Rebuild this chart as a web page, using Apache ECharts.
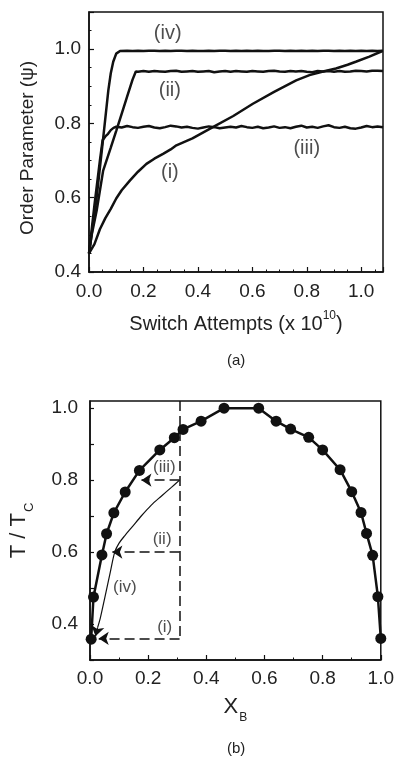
<!DOCTYPE html>
<html>
<head>
<meta charset="utf-8">
<script src="https://cdn.jsdelivr.net/npm/echarts@6/dist/echarts.min.js"></script>
<style>
  html, body { margin: 0; background: #fff; }
  #chart { width: 397px; height: 757px; }
</style>
</head>
<body>
<div id="chart"></div>
<script>
// ── (a) order parameter vs switch attempts ──
const iX = [0, 0.02, 0.04, 0.06, 0.08, 0.1, 0.12, 0.15, 0.18, 0.211, 0.24, 0.272, 0.3, 0.321, 0.38, 0.455,
  0.53, 0.602, 0.68, 0.761, 0.81, 0.86, 0.907, 0.95, 0.98, 1.03, 1.078];
const iY = [0.45, 0.475, 0.515, 0.545, 0.57, 0.598, 0.62, 0.646, 0.67, 0.691, 0.705, 0.718, 0.73, 0.741, 0.76, 0.79,
  0.82, 0.853, 0.885, 0.916, 0.93, 0.94, 0.948, 0.958, 0.966, 0.98, 0.995];

const iiX = [0, 0.01, 0.028, 0.052, 0.08, 0.1, 0.12, 0.14, 0.16, 0.172,
  0.18, 0.2, 0.22, 0.24, 0.26, 0.28, 0.3, 0.32, 0.34, 0.36, 0.38, 0.4, 0.42, 0.44, 0.46, 0.48, 0.5,
  0.52, 0.54, 0.56, 0.58, 0.6, 0.62, 0.64, 0.66, 0.68, 0.7, 0.72, 0.74, 0.76, 0.78, 0.8,
  0.82, 0.84, 0.86, 0.88, 0.9, 0.92, 0.94, 0.96, 0.98, 1.0, 1.02, 1.04, 1.06, 1.08];
const iiY = [0.45, 0.5, 0.565, 0.673, 0.735, 0.78, 0.826, 0.872, 0.918, 0.94,
  0.939, 0.941, 0.939, 0.941, 0.94, 0.939, 0.941, 0.942, 0.939, 0.94, 0.941, 0.939, 0.94, 0.941, 0.938, 0.94, 0.941,
  0.939, 0.941, 0.94, 0.939, 0.941, 0.94, 0.939, 0.941, 0.942, 0.94, 0.939, 0.941, 0.94, 0.941, 0.939,
  0.938, 0.941, 0.94, 0.941, 0.939, 0.941, 0.939, 0.94, 0.942, 0.941, 0.94, 0.942, 0.942, 0.941];

const iiiX = [0, 0.02, 0.04, 0.05, 0.06, 0.07, 0.08, 0.09,
  0.1, 0.12, 0.14, 0.16, 0.18, 0.2, 0.22, 0.24, 0.26, 0.28, 0.3, 0.32, 0.34, 0.36, 0.38, 0.4, 0.42, 0.44, 0.46, 0.48, 0.5,
  0.52, 0.54, 0.56, 0.58, 0.6, 0.62, 0.64, 0.66, 0.68, 0.7, 0.72, 0.74, 0.76, 0.78, 0.8,
  0.82, 0.84, 0.86, 0.88, 0.9, 0.92, 0.94, 0.96, 0.98, 1.0, 1.02, 1.04, 1.06, 1.08];
const iiiY = [0.45, 0.58, 0.7, 0.755, 0.765, 0.772, 0.782, 0.788,
  0.791, 0.789, 0.793, 0.79, 0.788, 0.791, 0.793, 0.789, 0.787, 0.79, 0.794, 0.792, 0.789, 0.791, 0.788, 0.786, 0.789, 0.792, 0.79, 0.787, 0.789,
  0.791, 0.789, 0.793, 0.79, 0.788, 0.791, 0.787, 0.789, 0.792, 0.788, 0.79, 0.787, 0.791, 0.794, 0.789,
  0.791, 0.788, 0.792, 0.795, 0.79, 0.788, 0.791, 0.787, 0.786, 0.789, 0.793, 0.79, 0.792, 0.79];

const ivX = [0, 0.028, 0.055, 0.071, 0.08, 0.089, 0.1, 0.114,
  0.14, 0.16, 0.18, 0.2, 0.22, 0.24, 0.26, 0.28, 0.3, 0.32, 0.34, 0.36, 0.38, 0.4, 0.42, 0.44, 0.46, 0.48, 0.5,
  0.52, 0.54, 0.56, 0.58, 0.6, 0.62, 0.64, 0.66, 0.68, 0.7, 0.72, 0.74, 0.76, 0.78, 0.8,
  0.82, 0.84, 0.86, 0.88, 0.9, 0.92, 0.94, 0.96, 0.98, 1.0, 1.02, 1.04, 1.06, 1.08];
const ivY = [0.45, 0.6, 0.78, 0.889, 0.935, 0.966, 0.988, 0.995,
  0.996, 0.995, 0.996, 0.995, 0.996, 0.996, 0.995, 0.996, 0.995, 0.996, 0.996, 0.995, 0.996, 0.995, 0.995, 0.996, 0.995, 0.996, 0.996,
  0.995, 0.996, 0.995, 0.996, 0.995, 0.996, 0.995, 0.995, 0.996, 0.996, 0.995, 0.996, 0.995, 0.996, 0.995,
  0.996, 0.995, 0.996, 0.996, 0.995, 0.996, 0.995, 0.996, 0.995, 0.996, 0.995, 0.996, 0.995, 0.996];

const topLabelNames = ['(iv)', '(ii)', '(iii)', '(i)'];
const topLabelX = [0.289, 0.297, 0.8, 0.297];
const topLabelY = [1.043, 0.889, 0.732, 0.668];

// ── (b) phase diagram ──
const binodalX = [0.004, 0.012, 0.041, 0.057, 0.082, 0.121, 0.17, 0.24, 0.29, 0.32, 0.382, 0.461,
  0.58, 0.64, 0.69, 0.752, 0.8, 0.86, 0.9, 0.932, 0.951, 0.972, 0.99, 1.0];
const binodalY = [0.358, 0.475, 0.592, 0.651, 0.709, 0.767, 0.827, 0.884, 0.918, 0.941, 0.964, 1.0,
  1.0, 0.964, 0.942, 0.919, 0.884, 0.829, 0.768, 0.71, 0.652, 0.591, 0.476, 0.36];

// quench path (iv): from the (iii) start point curving down onto the left branch
const pathX = [0.308, 0.28, 0.246, 0.21, 0.177, 0.145, 0.12, 0.1, 0.085, 0.07, 0.05, 0.035, 0.026];
const pathY = [0.8, 0.78, 0.756, 0.73, 0.701, 0.67, 0.646, 0.625, 0.6, 0.545, 0.47, 0.415, 0.39];
const pathHead = [0.026, 0.39, 0.019, 0.366]; // x1, y1, x2, y2

const dashVertical = [0.308, 1.02, 0.308, 0.36];
const dashArrows = [
  [0.308, 0.8, 0.177, 0.8],
  [0.308, 0.6, 0.077, 0.6],
  [0.308, 0.36, 0.03, 0.36],
];

const botLabelNames = ['(iii)', '(ii)', '(iv)', '(i)'];
const botLabelX = [0.256, 0.248, 0.12, 0.257];
const botLabelY = [0.836, 0.635, 0.502, 0.39];

const FONT = '"Liberation Sans", Arial, sans-serif';
const INK = '#111';
const TXT = '#222';

const zip = (xs, ys) => xs.map((x, k) => [x, ys[k]]);
const seg = (s) => [{ coord: [s[0], s[1]] }, { coord: [s[2], s[3]] }];

function curve(data) {
  return {
    type: 'line', xAxisIndex: 0, yAxisIndex: 0, data,
    symbol: 'none', smooth: false,
    lineStyle: { color: INK, width: 2.5 },
  };
}

function labelSeries(names, xs, ys, axis, size) {
  return {
    type: 'scatter', xAxisIndex: axis, yAxisIndex: axis,
    symbolSize: 1, itemStyle: { color: 'rgba(0,0,0,0)' }, silent: true,
    data: names.map((n, k) => ({ name: n, value: [xs[k], ys[k]] })),
    label: { show: true, position: 'inside', formatter: '{b}', color: TXT, fontFamily: FONT, fontSize: size },
  };
}

const axisCommon = {
  axisLine: { show: true, onZero: false, lineStyle: { color: INK, width: 1.5 } },
  splitLine: { show: false },
};

const option = {
  animation: false,
  backgroundColor: '#fff',
  textStyle: { fontFamily: FONT },
  grid: [
    { left: 89, right: 14, top: 12, height: 260, show: true, borderColor: INK, borderWidth: 1.5 },
    { left: 88, right: 16, top: 401, height: 259, show: true, borderColor: INK, borderWidth: 1.5 },
  ],
  xAxis: [
    {
      ...axisCommon, gridIndex: 0, type: 'value', min: 0, max: 1.08, interval: 0.2,
      axisTick: { inside: true, length: 5, lineStyle: { color: INK, width: 1.2 } },
      minorTick: { show: true, splitNumber: 4, length: 2.5, lineStyle: { color: INK, width: 1 } },
      axisLabel: { showMaxLabel: false, color: TXT, fontSize: 19, margin: 10, formatter: v => v.toFixed(1) },
      name: '{n|Switch Attempts (x 10}{sup|10}{n|)}', nameLocation: 'middle', nameGap: 38,
      nameTextStyle: {
        color: TXT,
        rich: {
          n: { fontSize: 20, color: TXT, verticalAlign: 'bottom', lineHeight: 24 },
          sup: { fontSize: 12, color: TXT, verticalAlign: 'top', lineHeight: 24 },
        },
      },
    },
    {
      ...axisCommon, gridIndex: 1, type: 'value', min: 0, max: 1, interval: 0.2,
      axisTick: { inside: true, length: 5, lineStyle: { color: INK, width: 1.2 } },
      minorTick: { show: true, splitNumber: 2, length: 2.5, lineStyle: { color: INK, width: 1 } },
      axisLabel: { color: TXT, fontSize: 19, margin: 9, formatter: v => v.toFixed(1) },
      name: '{n|X}{sub|B}', nameLocation: 'middle', nameGap: 36,
      nameTextStyle: {
        color: TXT,
        rich: {
          n: { fontSize: 22, color: TXT, verticalAlign: 'top', lineHeight: 28 },
          sub: { fontSize: 12, color: TXT, verticalAlign: 'bottom', lineHeight: 28, padding: [0, 0, 0, 1] },
        },
      },
    },
  ],
  yAxis: [
    {
      ...axisCommon, gridIndex: 0, type: 'value', min: 0.4, max: 1.1, interval: 0.2,
      axisTick: { inside: true, length: 5, lineStyle: { color: INK, width: 1.2 } },
      minorTick: { show: true, splitNumber: 4, length: 2.5, lineStyle: { color: INK, width: 1 } },
      axisLabel: { showMaxLabel: false, color: TXT, fontSize: 19, margin: 8, formatter: v => v.toFixed(1) },
      name: 'Order Parameter (ψ)', nameLocation: 'middle', nameGap: 52,
      nameTextStyle: { color: TXT, fontSize: 19, padding: [0, 12, 0, 0] },
    },
    {
      ...axisCommon, gridIndex: 1, type: 'value', min: 0.3, max: 1.02, interval: 0.1,
      axisTick: { inside: true, length: 4, lineStyle: { color: INK, width: 1.2 } },
      axisLabel: {
        showMaxLabel: false, color: TXT, fontSize: 19, margin: 12,
        formatter: v => (Math.round(v * 10) % 2 === 0 ? v.toFixed(1) : ''),
      },
      name: '{n|T / T}{sub|C}', nameLocation: 'middle', nameGap: 54,
      nameTextStyle: {
        color: TXT,
        rich: {
          n: { fontSize: 22, color: TXT, verticalAlign: 'top', lineHeight: 28 },
          sub: { fontSize: 13, color: TXT, verticalAlign: 'bottom', lineHeight: 28, padding: [0, 0, 0, 1] },
        },
      },
    },
  ],
  series: [
    curve(zip(iX, iY)),
    curve(zip(iiX, iiY)),
    curve(zip(iiiX, iiiY)),
    curve(zip(ivX, ivY)),
    labelSeries(topLabelNames, topLabelX, topLabelY, 0, 20),

    {
      type: 'line', xAxisIndex: 1, yAxisIndex: 1, data: zip(binodalX, binodalY), clip: false,
      symbol: 'circle', symbolSize: 11, itemStyle: { color: INK },
      lineStyle: { color: INK, width: 2.5 },
    },
    {
      type: 'line', xAxisIndex: 1, yAxisIndex: 1, data: zip(pathX, pathY), smooth: 0.3,
      symbol: 'none', lineStyle: { color: INK, width: 1.2 },
      markLine: {
        silent: true, animation: false, symbol: ['none', 'arrow'], symbolSize: 10,
        label: { show: false },
        lineStyle: { color: INK, width: 1.2, type: 'solid' },
        data: [seg(pathHead)],
      },
    },
    {
      type: 'line', xAxisIndex: 1, yAxisIndex: 1, data: [], symbol: 'none',
      markLine: {
        silent: true, animation: false, symbol: ['none', 'arrow'], symbolSize: 10,
        label: { show: false },
        lineStyle: { color: INK, width: 1.5, type: [10, 5] },
        data: [
          [
            { coord: [dashVertical[0], dashVertical[1]], symbol: 'none' },
            { coord: [dashVertical[2], dashVertical[3]], symbol: 'none' },
          ],
        ].concat(dashArrows.map(seg)),
      },
    },
    labelSeries(botLabelNames, botLabelX, botLabelY, 1, 17),
  ],
  graphic: [
    { type: 'text', left: 227, top: 353, style: { text: '(a)', fontSize: 15, fontFamily: FONT, fill: TXT } },
    { type: 'text', left: 227, top: 741, style: { text: '(b)', fontSize: 15, fontFamily: FONT, fill: TXT } },
  ],
};

const chart = echarts.init(document.getElementById('chart'), null, { renderer: 'canvas' });
chart.setOption(option);
</script>
</body>
</html>
